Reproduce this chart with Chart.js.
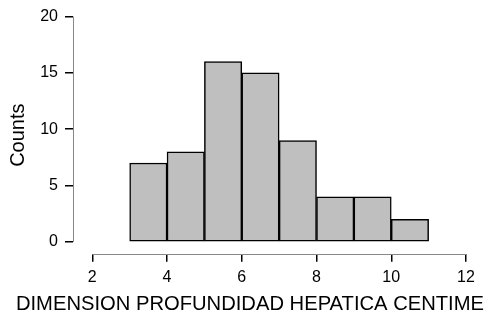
<!DOCTYPE html>
<html>
<head>
<meta charset="utf-8">
<script src="https://cdn.jsdelivr.net/npm/chart.js@4/dist/chart.umd.min.js"></script>
<style>
  html, body { margin: 0; padding: 0; background: #fff; }
  #wrap { width: 488px; height: 320px; }
</style>
</head>
<body>
<div id="wrap"><canvas id="hist"></canvas></div>
<script>
// histogram bins (left edges, width 1) and counts
const binStarts = [3, 4, 5, 6, 7, 8, 9, 10]
const counts = [7, 8, 16, 15, 9, 4, 4, 2]
const xTicks = [2, 4, 6, 8, 10, 12]
const yTicks = [0, 5, 10, 15, 20]
const xTitle = "DIMENSION PROFUNDIDAD HEPATICA CENTIME"
const yTitle = "Counts"

const font = "'Liberation Sans', Arial, sans-serif"

// draw the detached axis lines (only across the tick range)
const axisLines = {
  id: "axisLines",
  beforeDatasetsDraw(chart) {
    const { ctx, chartArea, scales } = chart
    ctx.save()
    ctx.strokeStyle = "#888"
    ctx.lineWidth = 1
    ctx.beginPath()
    const yb = Math.round(chartArea.bottom) + 0.5
    ctx.moveTo(scales.x.getPixelForValue(xTicks[0]), yb)
    ctx.lineTo(scales.x.getPixelForValue(xTicks[xTicks.length - 1]), yb)
    const xl = Math.round(chartArea.left) + 0.5
    ctx.moveTo(xl, scales.y.getPixelForValue(yTicks[0]))
    ctx.lineTo(xl, scales.y.getPixelForValue(yTicks[yTicks.length - 1]))
    ctx.stroke()
    ctx.restore()
  },
}

new Chart(document.getElementById("hist"), {
  type: "bar",
  data: {
    datasets: [
      {
        data: binStarts.map((b, i) => ({ x: b + 0.5, y: counts[i] })),
        backgroundColor: "#bfbfbf",
        borderColor: "#000",
        borderWidth: 1.5,
        borderSkipped: false,
        barPercentage: 1,
        categoryPercentage: 1,
      },
    ],
  },
  options: {
    responsive: true,
    maintainAspectRatio: false,
    animation: false,
    layout: { padding: { top: 15, right: 4, left: 0, bottom: 0 } },
    plugins: {
      legend: { display: false },
      tooltip: { enabled: false },
      title: {
        display: true,
        text: xTitle,
        position: "bottom",
        align: "end",
        color: "#000",
        font: { family: font, size: 20.2, weight: "normal" },
        padding: { top: 0, bottom: 3 },
      },
    },
    scales: {
      x: {
        type: "linear",
        min: 1.4835,
        max: 12.4817,
        offset: false,
        afterBuildTicks: (s) => { s.ticks = xTicks.map((v) => ({ value: v })) },
        afterFit: (s) => { s.height = 39 },
        grid: { offset: false, drawOnChartArea: false, drawTicks: true, tickLength: 8, color: "#000", lineWidth: 1.5 },
        border: { display: false },
        ticks: { color: "#000", font: { family: font, size: 16 }, padding: 6, maxRotation: 0 },
      },
      y: {
        min: -1.057,
        max: 20,
        afterBuildTicks: (s) => { s.ticks = yTicks.map((v) => ({ value: v })) },
        afterFit: (s) => { s.width = 73 },
        grid: { drawOnChartArea: false, drawTicks: true, tickLength: 8, color: "#000", lineWidth: 1.5 },
        border: { display: false },
        ticks: { color: "#000", font: { family: font, size: 16 }, padding: 7 },
        title: {
          display: true,
          text: yTitle,
          color: "#000",
          font: { family: font, size: 20, weight: "normal" },
          padding: { top: 6.5, bottom: 0 },
        },
      },
    },
  },
  plugins: [axisLines],
})
</script>
</body>
</html>
